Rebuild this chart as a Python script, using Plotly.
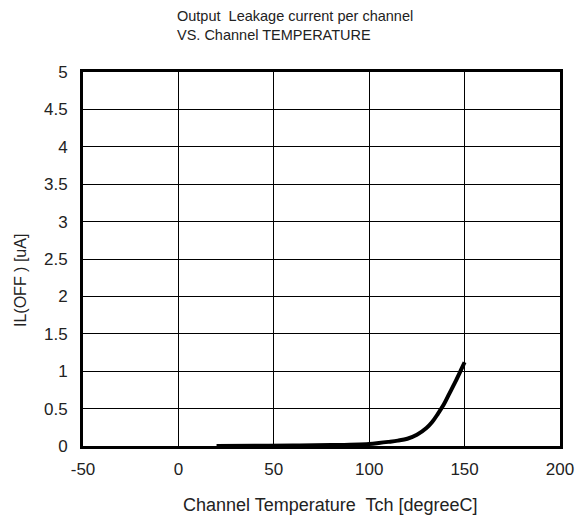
import plotly.graph_objects as go

temperature = [20, 40, 60, 80, 100, 105, 110, 115, 120, 125, 130, 133, 136, 139, 142, 145, 148, 150]
leakage_ua = [0.0, 0.003, 0.006, 0.012, 0.028, 0.04, 0.055, 0.072, 0.097, 0.15, 0.24, 0.32, 0.43, 0.55, 0.7, 0.85, 1.01, 1.12]

x_ticks = [-50, 0, 50, 100, 150, 200]
y_ticks = [0, 0.5, 1, 1.5, 2, 2.5, 3, 3.5, 4, 4.5, 5]
y_tick_text = ["0", "0.5", "1", "1.5", "2", "2.5", "3", "3.5", "4", "4.5", "5"]

title_lines = ["Output  Leakage current per channel", "VS. Channel TEMPERATURE"]
x_title = "Channel Temperature  Tch [degreeC]"
y_title = "IL(OFF ) [uA]"

FONT = "Liberation Sans, Arial, sans-serif"
TXT = "#222222"

# page body has an 8px margin; work in screen pixels and offset
OFF = 8
SW, SH = 587, 523
L, R, T, B = 83, 560, 72, 446  # plot area in screen px
W, H = SW - 2 * OFF, SH - 2 * OFF

fig = go.Figure()
fig.add_trace(go.Scatter(
    x=temperature, y=leakage_ua, mode="lines",
    line=dict(color="black", width=4, shape="spline", smoothing=1.0),
    showlegend=False, hoverinfo="skip",
))

fig.update_layout(
    width=W, height=H,
    margin=dict(l=L - OFF, r=(SW - OFF) - R, t=T - OFF, b=(SH - OFF) - B, autoexpand=False),
    paper_bgcolor="white", plot_bgcolor="white",
    font=dict(family=FONT, size=17, color=TXT),
    showlegend=False,
)
fig.update_xaxes(
    range=[-50, 200], tickvals=x_ticks, ticktext=[str(v) for v in x_ticks],
    showgrid=True, gridcolor="black", gridwidth=1, zeroline=False,
    showline=True, linecolor="black", linewidth=3, mirror=True,
    ticks="", tickfont=dict(size=17, color=TXT), ticklabelstandoff=6,
    automargin=False,
)
fig.update_yaxes(
    range=[0, 5], tickvals=y_ticks, ticktext=y_tick_text,
    showgrid=True, gridcolor="black", gridwidth=1, zeroline=False,
    showline=True, linecolor="black", linewidth=3, mirror=True,
    ticks="", tickfont=dict(size=17, color=TXT), ticklabelstandoff=9,
    automargin=False,
)
fig.add_annotation(
    text="<br>".join(title_lines), xref="paper", yref="paper",
    x=(175 - L) / (R - L), y=1, yshift=T - 6, xanchor="left", yanchor="top",
    align="left", showarrow=False, font=dict(size=14.5, color=TXT),
)
fig.add_annotation(
    text=x_title, xref="paper", yref="paper",
    x=(330 - L) / (R - L), y=0, yshift=-(505 - B), xanchor="center", yanchor="middle",
    showarrow=False, font=dict(size=18, color=TXT),
)
fig.add_annotation(
    text=y_title, xref="paper", yref="paper", textangle=-90,
    x=0, xshift=-(L - 20), y=(B - 281) / (B - T), xanchor="center", yanchor="middle",
    showarrow=False, font=dict(size=16, color=TXT),
)
fig.write_html("out.html")
